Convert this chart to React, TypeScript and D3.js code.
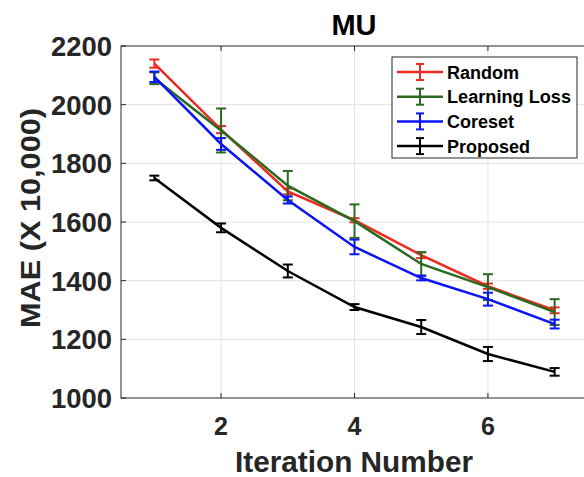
import * as d3 from 'd3';
import { useRef, useEffect } from 'react';

const iterations = [1, 2, 3, 4, 5, 6, 7];
const seriesNames = ['Random', 'Learning Loss', 'Coreset', 'Proposed'];
const seriesColors = ['#ec2b23', '#2a6a1f', '#0a14f5', '#000000'];

const randomMean = [2140, 1915, 1704, 1606, 1487, 1381, 1299];
const randomErr = [14, 12, 10, 7, 10, 9, 10];
const lossMean = [2090, 1912, 1724, 1603, 1457, 1378, 1293];
const lossErr = [20, 75, 50, 57, 40, 44, 44];
const coresetMean = [2095, 1866, 1675, 1515, 1409, 1337, 1252];
const coresetErr = [18, 20, 12, 25, 8, 22, 15];
const proposedMean = [1750, 1580, 1433, 1310, 1242, 1150, 1089];
const proposedErr = [8, 15, 22, 10, 24, 24, 13];

const means = [randomMean, lossMean, coresetMean, proposedMean];
const errs = [randomErr, lossErr, coresetErr, proposedErr];

const xTicks = [2, 4, 6];
const yTicks = [1000, 1200, 1400, 1600, 1800, 2000, 2200];

const W = 584;
const H = 477;
const font = '"Liberation Sans", Arial, Helvetica, sans-serif';

export default function App() {
    const svgRef = useRef<SVGSVGElement>(null);

    useEffect(() => {
        if (!svgRef.current) return;
        const svg = d3.select(svgRef.current);
        svg.selectAll('*').remove();

        const left = 121, top = 46, bottom = 398, right = 588;

        const x = d3.scaleLinear().domain([0.5, 7.5]).range([left, right]);
        const y = d3.scaleLinear().domain([1000, 2200]).range([bottom, top]);

        // grid
        const grid = svg.append('g');
        grid.selectAll('line.gx')
            .data(xTicks)
            .enter()
            .append('line')
            .attr('x1', d => x(d)).attr('x2', d => x(d))
            .attr('y1', top).attr('y2', bottom)
            .attr('stroke', '#e3e3e3').attr('stroke-width', 1);
        grid.selectAll('line.gy')
            .data(yTicks.slice(1, -1))
            .enter()
            .append('line')
            .attr('x1', left).attr('x2', right)
            .attr('y1', d => y(d)).attr('y2', d => y(d))
            .attr('stroke', '#e3e3e3').attr('stroke-width', 1);

        // series
        const line = d3.line<number>()
            .x((_, i) => x(iterations[i]))
            .y(d => y(d));

        means.forEach((m, s) => {
            const g = svg.append('g');
            const c = seriesColors[s];
            g.append('path')
                .attr('d', line(m) || '')
                .attr('fill', 'none')
                .attr('stroke', c)
                .attr('stroke-width', 2.5);
            const bars = g.selectAll('g.eb')
                .data(m)
                .enter()
                .append('g');
            bars.append('line')
                .attr('x1', (_, i) => x(iterations[i])).attr('x2', (_, i) => x(iterations[i]))
                .attr('y1', (d, i) => y(d - errs[s][i])).attr('y2', (d, i) => y(d + errs[s][i]))
                .attr('stroke', c).attr('stroke-width', 2);
            [-1, 1].forEach(sign => {
                bars.append('line')
                    .attr('x1', (_, i) => x(iterations[i]) - 5).attr('x2', (_, i) => x(iterations[i]) + 5)
                    .attr('y1', (d, i) => y(d + sign * errs[s][i]))
                    .attr('y2', (d, i) => y(d + sign * errs[s][i]))
                    .attr('stroke', c).attr('stroke-width', 2);
            });
        });

        // axes box
        const axisColor = '#262626';
        svg.append('rect')
            .attr('x', left).attr('y', top)
            .attr('width', right - left).attr('height', bottom - top)
            .attr('fill', 'none').attr('stroke', axisColor).attr('stroke-width', 1);

        // inner ticks
        const tk = svg.append('g').attr('stroke', axisColor).attr('stroke-width', 1);
        xTicks.forEach(t => {
            tk.append('line').attr('x1', x(t)).attr('x2', x(t)).attr('y1', bottom).attr('y2', bottom - 5);
            tk.append('line').attr('x1', x(t)).attr('x2', x(t)).attr('y1', top).attr('y2', top + 5);
        });
        yTicks.forEach(t => {
            tk.append('line').attr('x1', left).attr('x2', left + 5).attr('y1', y(t)).attr('y2', y(t));
        });

        // tick labels
        svg.append('g')
            .selectAll('text')
            .data(xTicks)
            .enter()
            .append('text')
            .attr('x', d => x(d)).attr('y', 435)
            .attr('text-anchor', 'middle')
            .attr('font-family', font).attr('font-weight', 'bold').attr('font-size', 25)
            .attr('fill', axisColor)
            .text(d => d);
        svg.append('g')
            .selectAll('text')
            .data(yTicks)
            .enter()
            .append('text')
            .attr('x', left - 9).attr('y', d => y(d) + 10)
            .attr('text-anchor', 'end')
            .attr('font-family', font).attr('font-weight', 'bold').attr('font-size', 27)
            .attr('fill', axisColor)
            .attr('textLength', 61).attr('lengthAdjust', 'spacingAndGlyphs')
            .text(d => d);

        // title and axis labels
        svg.append('text')
            .attr('x', 354).attr('y', 35)
            .attr('text-anchor', 'middle')
            .attr('font-family', font).attr('font-weight', 'bold').attr('font-size', 29)
            .attr('fill', '#000')
            .text('MU');
        svg.append('text')
            .attr('x', 354).attr('y', 472)
            .attr('text-anchor', 'middle')
            .attr('font-family', font).attr('font-weight', 'bold').attr('font-size', 30)
            .attr('fill', axisColor)
            .attr('textLength', 238).attr('lengthAdjust', 'spacingAndGlyphs')
            .text('Iteration Number');
        svg.append('text')
            .attr('transform', `translate(40,218) rotate(-90)`)
            .attr('text-anchor', 'middle')
            .attr('font-family', font).attr('font-weight', 'bold').attr('font-size', 28)
            .attr('fill', axisColor)
            .attr('textLength', 220).attr('lengthAdjust', 'spacingAndGlyphs')
            .text('MAE (X 10,000)');

        // legend
        const lg = svg.append('g');
        lg.append('rect')
            .attr('x', 392).attr('y', 57).attr('width', 185).attr('height', 101)
            .attr('fill', '#fff').attr('stroke', axisColor).attr('stroke-width', 1);
        seriesNames.forEach((name, i) => {
            const ly = 72 + i * 24.7;
            const c = seriesColors[i];
            lg.append('line').attr('x1', 397).attr('x2', 443).attr('y1', ly).attr('y2', ly)
                .attr('stroke', c).attr('stroke-width', 2.5);
            lg.append('line').attr('x1', 420).attr('x2', 420).attr('y1', ly - 8).attr('y2', ly + 8)
                .attr('stroke', c).attr('stroke-width', 2);
            [-8, 8].forEach(o => {
                lg.append('line').attr('x1', 416).attr('x2', 424).attr('y1', ly + o).attr('y2', ly + o)
                    .attr('stroke', c).attr('stroke-width', 2);
            });
            lg.append('text')
                .attr('x', 447).attr('y', ly + 6.5)
                .attr('font-family', font).attr('font-weight', 'bold').attr('font-size', 18)
                .attr('fill', '#000')
                .attr('textLength', name === 'Learning Loss' ? 124 : null)
                .attr('lengthAdjust', 'spacingAndGlyphs')
                .text(name);
        });
    }, []);

    return (
        <svg ref={svgRef} width={W} height={H}
            style={{ position: 'absolute', left: 0, top: 0, background: '#fff' }} />
    );
}
